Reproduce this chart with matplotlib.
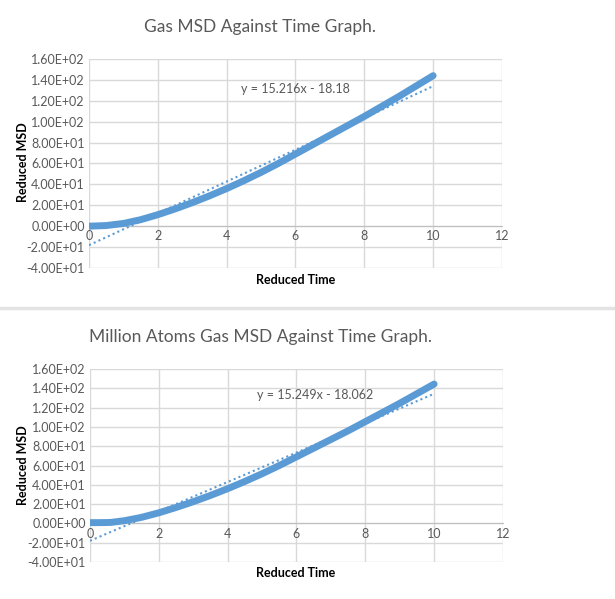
import numpy as np
import matplotlib.pyplot as plt
from matplotlib.lines import Line2D

# values
time_a = [0, 0.5, 1, 1.5, 2, 2.5, 3, 3.5, 4, 4.5, 5, 5.5, 6, 6.5, 7, 7.5, 8, 8.5, 9, 9.5, 10]
msd_a = [0, 0.6, 2.6, 6.2, 11, 16.5, 22.5, 29, 36, 43.5, 51.5, 60, 69, 78, 87, 96, 105, 114.5, 124, 134, 144]
fit_a = [15.216, -18.18]

time_b = [0, 0.3, 0.6, 1, 1.5, 2, 2.5, 3, 3.5, 4, 4.5, 5, 5.5, 6, 6.5, 7, 7.5, 8, 8.5, 9, 9.5, 10]
msd_b = [0.8, 0.8, 1.0, 2.8, 6.3, 11, 16.5, 22.5, 29, 36, 43.5, 51.5, 60, 69, 78, 87, 96, 105.5, 115, 124.5, 134.5, 144.5]
fit_b = [15.249, -18.062]

titles = ["Gas MSD Against Time Graph.", "Million Atoms Gas MSD Against Time Graph."]
eq_labels = ["y = 15.216x - 18.18", "y = 15.249x - 18.062"]
yticks = [-40, -20, 0, 20, 40, 60, 80, 100, 120, 140, 160]
xticks = [0, 2, 4, 6, 8, 10, 12]

blue = "#5B9BD5"
grey_txt = "#595959"
font = "Lato"

fig = plt.figure(figsize=(6.15, 5.99), dpi=100)

panels = [
    dict(rect=[0.1447, 0.5526, 0.6715, 0.349], t=time_a, m=msd_a, fit=fit_a,
         title_y=0.955, xl_y=0.533, yl_y=0.73, eq=(6.0, 131)),
    dict(rect=[0.1463, 0.0618, 0.6715, 0.322], t=time_b, m=msd_b, fit=fit_b,
         title_y=0.437, xl_y=0.0434, yl_y=0.224, eq=(6.54, 133)),
]

for i, p in enumerate(panels):
    ax = fig.add_axes(p["rect"])
    ax.set_xlim(0, 12)
    ax.set_ylim(-40, 160)
    ax.set_xticks(xticks)
    ax.set_yticks(yticks)
    ax.set_yticklabels(["%.2E" % v for v in yticks])
    ax.grid(True, color="#D9D9D9", linewidth=1)
    ax.set_axisbelow(True)
    for s in ["top", "right", "left"]:
        ax.spines[s].set_visible(False)
    ax.spines["bottom"].set_position(("data", 0))
    ax.spines["bottom"].set_color("#BFBFBF")
    ax.tick_params(length=0, labelsize=9, labelcolor=grey_txt, pad=3)
    for lab in ax.get_xticklabels() + ax.get_yticklabels():
        lab.set_fontfamily(font)

    ax.plot(p["t"], p["m"], color=blue, linewidth=5, solid_capstyle="round", zorder=3)
    xs = np.array([0, 10])
    ax.plot(xs, np.polyval(p["fit"], xs), color=blue, linewidth=1.5, linestyle=(0, (1, 1.5)), zorder=4)
    ax.text(p["eq"][0], p["eq"][1], eq_labels[i], ha="center", va="center",
            fontsize=9, color=grey_txt, family=font)

    fig.text(0.423, p["title_y"], titles[i], ha="center", va="center",
             fontsize=12.5, color=grey_txt, family=font)
    fig.text(0.481, p["xl_y"], "Reduced Time", ha="center", va="center",
             fontsize=9, fontweight="bold", family=font)
    fig.text(0.037, p["yl_y"], "Reduced MSD", ha="center", va="center", rotation=90,
             fontsize=9, fontweight="bold", family=font)

# divider between the two charts
fig.add_artist(Line2D([0, 1], [1 - 308 / 599] * 2, color="#E3E3E3", linewidth=2.5))

fig.savefig("out.png", dpi=100)
